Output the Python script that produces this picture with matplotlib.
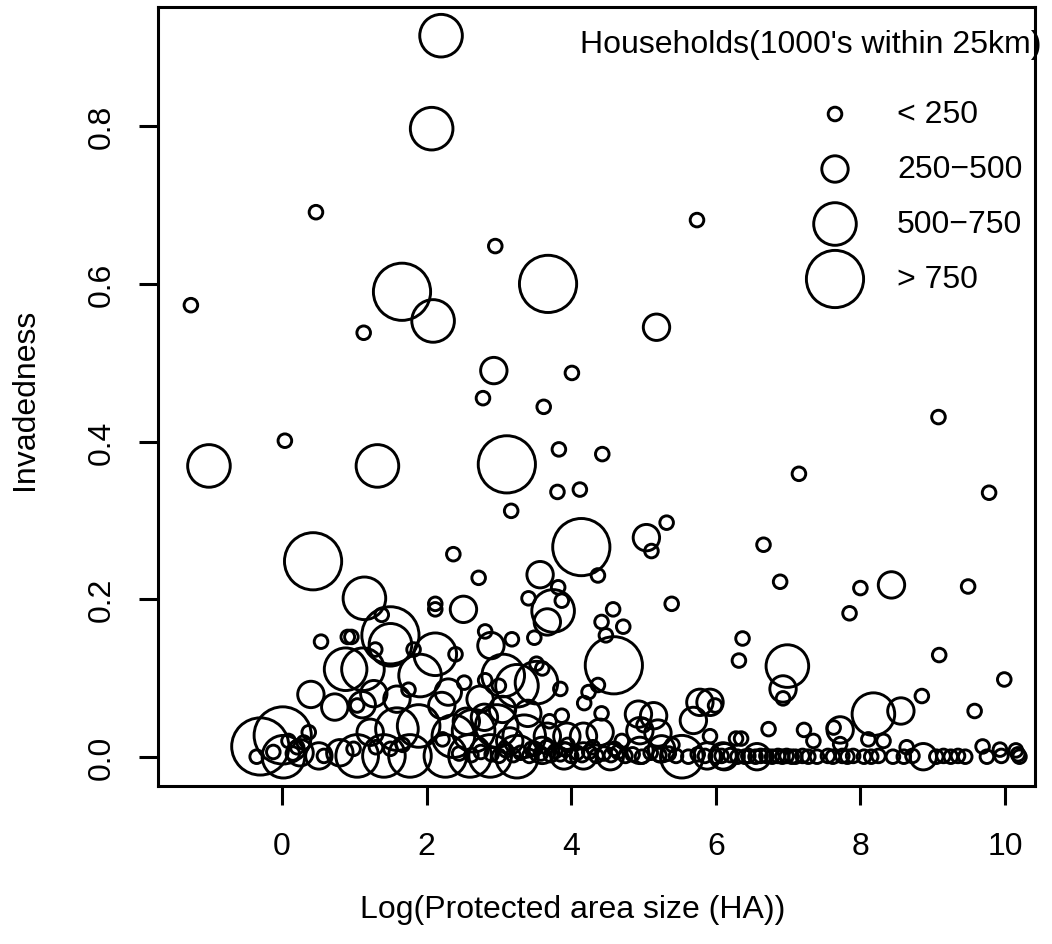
import numpy as np
import matplotlib
matplotlib.use('Agg')
import matplotlib.pyplot as plt

plt.rcParams['font.family'] = ['Liberation Sans', 'DejaVu Sans']

# household classes: 0 = <250, 1 = 250-500, 2 = 500-750, 3 = >750 (1000's within 25km)
class_labels = ['< 250', '250\u2212500', '500\u2212750', '> 750']

# upper / scattered points
log_area = [2.20, 2.07, 0.47, 2.95, 5.74, -1.26, 1.66, 3.68, 2.09, 1.13,
            5.18, 2.93, 2.78, 4.01, 3.62, 0.04, -1.01, 1.32, 3.11, 3.83,
            4.43, 9.08, 7.15, 3.81, 4.12, 9.78, 3.17, 5.04, 5.32, 5.11,
            6.66, 4.14, 0.43, 2.37, 6.89, 8.00, 8.43, 9.49, 7.85, 4.37,
            2.72, 3.57, 5.39, 2.51, 3.41, 3.75, 3.87, 3.82, 3.67, 3.49,
            4.58, 4.42, 4.72, 4.48, 4.59, 4.37, 4.24, 4.18, 4.42, 2.89,
            2.81, 3.18, 6.37, 6.32, 6.99, 6.93, 6.93, 9.09, 9.99, 8.85,
            9.58, 8.18, 8.56, 6.73, 7.72, 7.63, 7.22, 7.35, 6.35, 8.11,
            8.32, 7.72, 8.64, 8.87, 9.69, 9.93, 10.18, 10.20, 10.15, 6.12,
            6.57]
invadedness = [0.915, 0.797, 0.691, 0.648, 0.681, 0.573, 0.590, 0.600, 0.553, 0.538,
               0.545, 0.490, 0.455, 0.487, 0.444, 0.401, 0.369, 0.369, 0.371, 0.390,
               0.384, 0.431, 0.359, 0.336, 0.339, 0.335, 0.312, 0.278, 0.297, 0.261,
               0.269, 0.266, 0.248, 0.257, 0.222, 0.214, 0.218, 0.216, 0.182, 0.230,
               0.227, 0.231, 0.194, 0.187, 0.201, 0.185, 0.198, 0.215, 0.171, 0.151,
               0.187, 0.171, 0.165, 0.154, 0.116, 0.091, 0.082, 0.068, 0.055, 0.141,
               0.159, 0.149, 0.150, 0.122, 0.115, 0.086, 0.074, 0.129, 0.098, 0.077,
               0.058, 0.054, 0.058, 0.035, 0.034, 0.037, 0.034, 0.020, 0.023, 0.022,
               0.020, 0.016, 0.012, 0.000, 0.013, 0.009, 0.003, 0.000, 0.008, 0.000,
               0.000]
hh_class = [2, 2, 0, 0, 0, 0, 3, 3, 2, 0,
            1, 1, 0, 0, 0, 0, 2, 2, 3, 0,
            0, 0, 0, 0, 0, 0, 0, 1, 0, 0,
            0, 3, 3, 0, 0, 0, 1, 0, 0, 0,
            0, 1, 0, 1, 0, 2, 0, 0, 1, 0,
            0, 0, 0, 0, 3, 0, 0, 0, 0, 1,
            0, 0, 0, 0, 2, 1, 0, 0, 0, 0,
            0, 2, 1, 0, 1, 0, 0, 0, 0, 0,
            0, 0, 0, 1, 0, 0, 0, 0, 0, 1,
            1]

# dense cluster, small areas
log_area_left = [1.14, 1.50, 1.38, 2.12, 2.12, 0.54, 0.96, 0.91, 1.50, 1.29,
                 1.82, 2.12, 2.40, 0.88, 1.12, 1.91, 0.40, 0.73, 1.27, 1.11,
                 1.75, 1.59, 2.21, 1.04, -0.30, 0.01, -0.12, -0.35, 0.09, 0.21,
                 0.37, 0.58, 0.25, 0.51, 1.04, 0.99, 1.41, 1.77, 1.22, 1.59,
                 1.89, 2.22, 2.26, 1.67, 1.50, 0.02, 0.15, 0.30, 0.80, 1.30]
invadedness_left = [0.201, 0.154, 0.180, 0.194, 0.187, 0.146, 0.152, 0.152, 0.142, 0.136,
                    0.136, 0.130, 0.130, 0.111, 0.111, 0.103, 0.079, 0.063, 0.080, 0.066,
                    0.085, 0.073, 0.065, 0.065, 0.013, 0.027, 0.006, 0.000, 0.020, 0.012,
                    0.031, 0.001, 0.005, 0.001, 0.001, 0.010, 0.001, 0.001, 0.031, 0.035,
                    0.039, 0.022, 0.001, 0.015, 0.010, 0.000, 0.004, 0.018, 0.005, 0.012]
hh_class_left = [2, 3, 0, 0, 0, 0, 0, 0, 2, 0,
                 0, 2, 0, 2, 2, 2, 1, 1, 1, 1,
                 0, 1, 1, 0, 3, 3, 0, 0, 0, 0,
                 0, 0, 1, 1, 2, 0, 2, 2, 1, 2,
                 2, 0, 2, 0, 0, 2, 0, 0, 1, 0]

# dense cluster, mid areas
log_area_mid = [3.06, 3.25, 3.52, 3.52, 3.60, 2.52, 2.81, 3.85, 3.00, 2.74,
                2.30, 3.87, 4.93, 5.14, 5.78, 5.92, 5.99, 5.69, 5.92, 6.28,
                4.95, 5.00, 5.20, 4.60, 4.40, 4.17, 3.94, 3.67, 3.35, 2.97,
                2.65, 2.37, 2.60, 2.88, 3.25, 3.60, 3.90, 4.17, 4.54, 5.53,
                4.95, 5.25, 5.88, 6.10, 3.05, 3.40, 2.80, 3.70, 3.95, 4.30,
                3.15, 3.45, 2.55, 4.70, 5.40]
invadedness_mid = [0.103, 0.090, 0.094, 0.118, 0.112, 0.094, 0.097, 0.086, 0.090, 0.073,
                   0.082, 0.052, 0.054, 0.052, 0.069, 0.069, 0.065, 0.046, 0.026, 0.023,
                   0.033, 0.040, 0.030, 0.010, 0.031, 0.026, 0.026, 0.026, 0.026, 0.039,
                   0.033, 0.026, 0.001, 0.001, 0.000, 0.008, 0.001, 0.001, 0.000, 0.000,
                   0.008, 0.010, 0.001, 0.001, 0.060, 0.055, 0.050, 0.045, 0.015, 0.012,
                   0.020, 0.010, 0.045, 0.020, 0.015]
hh_class_mid = [2, 2, 2, 0, 0, 0, 0, 0, 0, 1,
                1, 0, 1, 1, 1, 1, 0, 1, 0, 0,
                1, 0, 1, 0, 1, 1, 1, 1, 2, 2,
                2, 2, 2, 2, 2, 1, 1, 1, 1, 2,
                1, 1, 1, 1, 1, 1, 1, 0, 0, 0,
                1, 0, 1, 0, 0]

# small circles along the zero line
log_area_base = [2.45, 2.62, 2.75, 2.90, 3.00, 3.10, 3.20, 3.30, 3.42, 3.50,
                 3.58, 3.66, 3.72, 3.78, 3.85, 3.92, 4.00, 4.08, 4.15, 4.25,
                 4.35, 4.45, 4.55, 4.65, 4.75, 4.85, 4.98, 5.10, 5.22, 5.35,
                 5.45, 5.62, 5.75, 5.85, 6.00, 6.20, 6.30, 6.45, 6.55, 6.70,
                 6.78, 6.86, 6.92, 6.98, 7.05, 7.10, 7.20, 7.40, 7.55, 7.62,
                 7.75, 7.82, 7.90, 8.05, 8.15, 8.25, 8.45, 8.60, 8.72, 9.05,
                 9.15, 9.25, 9.35, 9.45, 9.75, 9.95, 6.08, 6.40, 6.62, 7.28]
invadedness_base = [0.004, 0.002, 0.006, 0.003, 0.001, 0.008, 0.002, 0.005, 0.001, 0.010,
                    0.004, 0.012, 0.002, 0.007, 0.003, 0.009, 0.001, 0.005, 0.002, 0.006,
                    0.001, 0.004, 0.002, 0.006, 0.001, 0.003, 0.000, 0.005, 0.002, 0.004,
                    0.001, 0.000, 0.003, 0.001, 0.000, 0.002, 0.000, 0.001, 0.000, 0.001,
                    0.000, 0.001, 0.000, 0.001, 0.000, 0.000, 0.001, 0.000, 0.001, 0.000,
                    0.001, 0.000, 0.001, 0.000, 0.000, 0.001, 0.000, 0.000, 0.001, 0.000,
                    0.001, 0.000, 0.001, 0.000, 0.000, 0.001, 0.001, 0.000, 0.001, 0.000]
hh_class_base = [0] * len(log_area_base)

x = np.array(log_area + log_area_left + log_area_mid + log_area_base)
y = np.array(invadedness + invadedness_left + invadedness_mid + invadedness_base)
c = np.array(hh_class + hh_class_left + hh_class_mid + hh_class_base)

dpi = 100
radius_px = np.array([6.8, 13.2, 21.3, 28.6])
px2pt = 72.0 / dpi
sizes = (2 * radius_px[c] * px2pt) ** 2

fig = plt.figure(figsize=(10.52, 9.45), dpi=dpi)
ax = fig.add_axes([157.7 / 1052, 1 - 786.7 / 945, (1035 - 157.7) / 1052, (786.7 - 8) / 945])

ax.scatter(x, y, s=sizes, facecolors='none', edgecolors='black', linewidths=2.1)

ax.set_xlim(-1.719, 10.415)
ax.set_ylim(-0.0368, 0.9514)
ax.set_xticks([0, 2, 4, 6, 8, 10])
ax.set_yticks([0.0, 0.2, 0.4, 0.6, 0.8])
ax.set_yticklabels(['0.0', '0.2', '0.4', '0.6', '0.8'], rotation=90, va='center')
for sp in ax.spines.values():
    sp.set_linewidth(2.2)
ax.tick_params(axis='both', direction='out', length=13.7, width=2.2, labelsize=23)
ax.tick_params(axis='x', pad=19)
ax.tick_params(axis='y', pad=16)

ax.set_xlabel('Log(Protected area size (HA))', fontsize=23)
ax.set_ylabel('Invadedness', fontsize=23)
ax.xaxis.set_label_coords(0.473, -0.139)
ax.yaxis.set_label_coords(-0.134, 0.497)

# legend drawn by hand in axes coordinates
def to_ax(px, py):
    return (px - 157.7) / 877.3, (786.7 - py) / 778.7

tx, ty = to_ax(811, 45)
ax.text(tx, ty, "Households(1000's within 25km)", transform=ax.transAxes,
        ha='center', va='center', fontsize=23)
leg_rows = [115, 170, 225, 280]
for k, lab in enumerate(class_labels):
    sx, sy = to_ax(835, leg_rows[k])
    ax.scatter([sx], [sy], s=(2 * radius_px[k] * px2pt) ** 2, facecolors='none',
               edgecolors='black', linewidths=2.1, transform=ax.transAxes, clip_on=False)
    lx, ly = to_ax(897, leg_rows[k])
    ax.text(lx, ly, lab, transform=ax.transAxes, ha='left', va='center', fontsize=23)

fig.savefig('out.png', dpi=dpi)
